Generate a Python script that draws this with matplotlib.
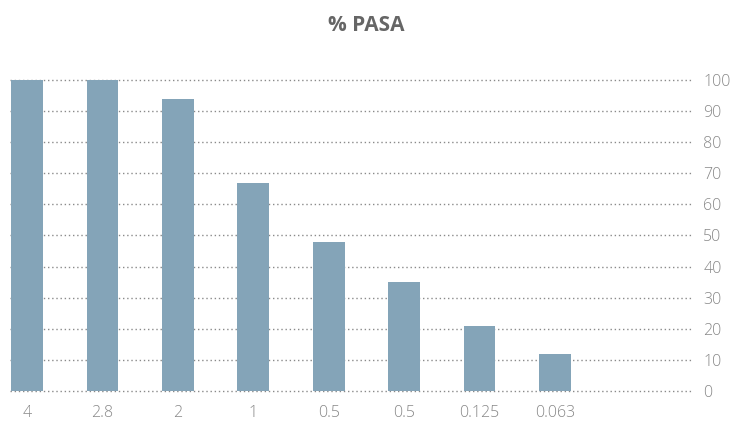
import numpy as np
import matplotlib.pyplot as plt

sizes = ["4", "2.8", "2", "1", "0.5", "0.5", "0.125", "0.063"]
pasa = [100, 100, 94, 67, 48, 35, 21, 12]
y_ticks = [0, 10, 20, 30, 40, 50, 60, 70, 80, 90, 100]

bar_color = "#84a4b8"
text_grey = "#888888"

plt.rcParams['font.family'] = ['Open Sans', 'DejaVu Sans']

fig = plt.figure(figsize=(7.32, 4.25), dpi=100)
ax = fig.add_axes([0.0137, 0.08, 0.932, 0.732])

x = np.arange(len(sizes))
ax.bar(x, pasa, 0.42, color=bar_color, zorder=3)

ax.set_xlim(-0.225, 8.82)
ax.set_ylim(0, 100)
ax.set_xticks(x)
ax.set_xticklabels(sizes)
ax.set_yticks(y_ticks)

ax.yaxis.tick_right()
ax.tick_params(axis='y', length=0, pad=8, labelsize=11.5, labelcolor=text_grey)
ax.tick_params(axis='x', length=0, pad=10, labelsize=11.5, labelcolor=text_grey)
for lab in ax.get_xticklabels() + ax.get_yticklabels():
    lab.set_fontweight('light')

ax.yaxis.grid(True, linestyle=(0, (1, 2)), color="#8a8a8a", linewidth=1, zorder=0)
for gl in ax.get_ygridlines():
    gl.set_clip_on(False)
ax.set_axisbelow(True)
for s in ax.spines.values():
    s.set_visible(False)

fig.text(0.5, 0.94, "% PASA", ha='center', va='center', fontsize=15,
         fontweight='bold', color="#666666")

fig.savefig("out.png", dpi=100)
